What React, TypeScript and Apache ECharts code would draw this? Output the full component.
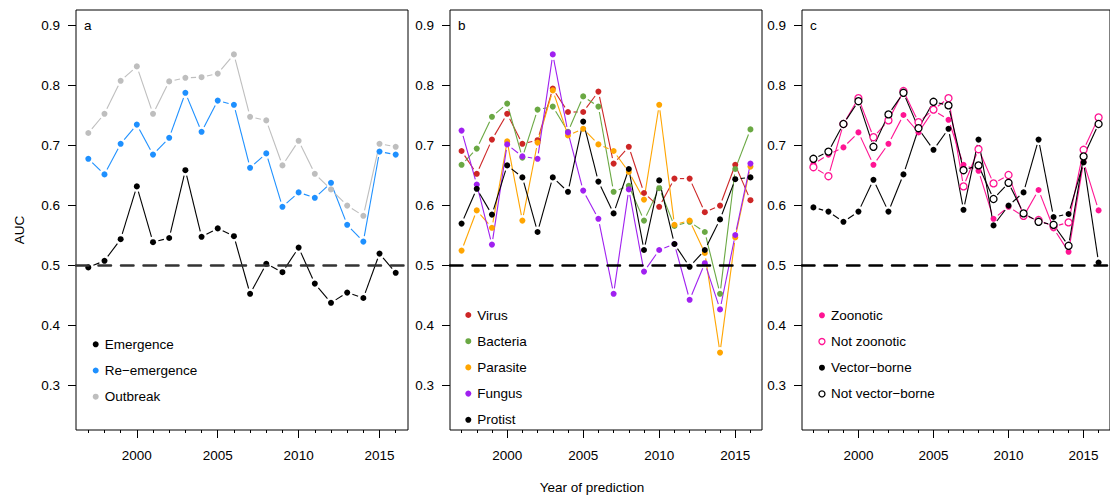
import React, { useEffect, useRef } from "react";
import * as echarts from "echarts";

// Prediction years (x values shared by every series)
const years = [1997, 1998, 1999, 2000, 2001, 2002, 2003, 2004, 2005, 2006, 2007, 2008, 2009, 2010, 2011, 2012, 2013, 2014, 2015, 2016];
const majorYears = [2000, 2005, 2010, 2015];
const aucTicks = [0.3, 0.4, 0.5, 0.6, 0.7, 0.8, 0.9];

// Panel a: event type
const emergence = [0.496, 0.507, 0.543, 0.631, 0.538, 0.545, 0.658, 0.547, 0.561, 0.548, 0.452, 0.502, 0.488, 0.529, 0.469, 0.437, 0.454, 0.445, 0.519, 0.487];
const reEmergence = [0.677, 0.651, 0.702, 0.734, 0.684, 0.712, 0.787, 0.722, 0.774, 0.767, 0.662, 0.686, 0.597, 0.621, 0.612, 0.637, 0.567, 0.539, 0.689, 0.684];
const outbreak = [0.720, 0.752, 0.807, 0.831, 0.752, 0.806, 0.812, 0.813, 0.819, 0.851, 0.747, 0.741, 0.666, 0.707, 0.652, 0.626, 0.599, 0.582, 0.702, 0.697];

// Panel b: pathogen type
const virus = [0.690, 0.652, 0.709, 0.752, 0.702, 0.708, 0.794, 0.755, 0.755, 0.789, 0.669, 0.697, 0.620, 0.597, 0.644, 0.644, 0.588, 0.599, 0.667, 0.608];
const bacteria = [0.667, 0.694, 0.747, 0.769, 0.679, 0.759, 0.764, 0.722, 0.781, 0.764, 0.622, 0.632, 0.574, 0.628, 0.565, 0.572, 0.555, 0.452, 0.660, 0.726];
const parasite = [0.524, 0.591, 0.562, 0.706, 0.574, 0.704, 0.791, 0.716, 0.727, 0.701, 0.690, 0.655, 0.609, 0.767, 0.567, 0.574, 0.520, 0.354, 0.546, 0.664];
const fungus = [0.724, 0.634, 0.534, 0.701, 0.681, 0.677, 0.851, 0.721, 0.624, 0.577, 0.452, 0.626, 0.489, 0.525, 0.535, 0.442, 0.503, 0.426, 0.550, 0.669];
const protist = [0.569, 0.627, 0.584, 0.666, 0.646, 0.555, 0.646, 0.622, 0.739, 0.639, 0.586, 0.660, 0.525, 0.641, 0.535, 0.497, 0.525, 0.576, 0.643, 0.646];

// Panel c: transmission
const zoonotic = [0.668, 0.684, 0.696, 0.721, 0.667, 0.702, 0.750, 0.721, 0.758, 0.742, 0.667, 0.657, 0.577, 0.597, 0.581, 0.625, 0.561, 0.522, 0.672, 0.591];
const notZoonotic = [0.663, 0.648, 0.735, 0.778, 0.713, 0.741, 0.790, 0.738, 0.759, 0.778, 0.631, 0.693, 0.636, 0.650, 0.582, 0.575, 0.564, 0.571, 0.692, 0.746];
const vectorBorne = [0.596, 0.589, 0.572, 0.589, 0.642, 0.589, 0.651, 0.727, 0.692, 0.727, 0.592, 0.709, 0.566, 0.599, 0.621, 0.709, 0.580, 0.585, 0.671, 0.504];
const notVectorBorne = [0.677, 0.689, 0.735, 0.773, 0.697, 0.751, 0.787, 0.728, 0.772, 0.766, 0.658, 0.666, 0.610, 0.637, 0.586, 0.572, 0.567, 0.532, 0.681, 0.735];

const FONT = "'Liberation Sans', Arial, Helvetica, sans-serif";
const X_MIN = 1996.24;
const X_MAX = 2016.76;
const Y_MIN = 0.225;
const Y_MAX = 0.925;

type Line = { name: string; values: number[]; color: string; open?: boolean };
type Panel = {
  letter: string;
  left: number;
  width: number;
  refColor: string;
  legendTop: number;
  legendLeft: number;
  lines: Line[];
};

const panels: Panel[] = [
  {
    letter: "a", left: 76, width: 332, refColor: "#333", legendTop: 336.3, legendLeft: 92.7,
    lines: [
      { name: "Emergence", values: emergence, color: "#000000" },
      { name: "Re\u2212emergence", values: reEmergence, color: "#1E90FF" },
      { name: "Outbreak", values: outbreak, color: "#BEBEBE" },
    ],
  },
  {
    letter: "b", left: 450, width: 312, refColor: "#000", legendTop: 307, legendLeft: 465.3,
    lines: [
      { name: "Virus", values: virus, color: "#CD2626" },
      { name: "Bacteria", values: bacteria, color: "#6AA843" },
      { name: "Parasite", values: parasite, color: "#FFA500" },
      { name: "Fungus", values: fungus, color: "#A020F0" },
      { name: "Protist", values: protist, color: "#000000" },
    ],
  },
  {
    letter: "c", left: 802, width: 312, refColor: "#000", legendTop: 307.3, legendLeft: 818.3,
    lines: [
      { name: "Zoonotic", values: zoonotic, color: "#FF1493" },
      { name: "Not zoonotic", values: notZoonotic, color: "#FF1493", open: true },
      { name: "Vector\u2212borne", values: vectorBorne, color: "#000000" },
      { name: "Not vector\u2212borne", values: notVectorBorne, color: "#000000", open: true },
    ],
  },
];

// Segments between consecutive years, drawn with a small gap around each point
function segmentData(values: number[]) {
  return years.slice(0, -1).map((yr, i) => [yr, values[i], years[i + 1], values[i + 1]]);
}

function gappedSegment(color: string) {
  const gap = 5.5;
  return (_params: any, api: any) => {
    const p0 = api.coord([api.value(0), api.value(1)]);
    const p1 = api.coord([api.value(2), api.value(3)]);
    const dx = p1[0] - p0[0];
    const dy = p1[1] - p0[1];
    const len = Math.hypot(dx, dy);
    if (len <= 2 * gap) return { type: "group", children: [] };
    const ux = dx / len;
    const uy = dy / len;
    return {
      type: "line",
      shape: { x1: p0[0] + ux * gap, y1: p0[1] + uy * gap, x2: p1[0] - ux * gap, y2: p1[1] - uy * gap },
      style: { stroke: color, lineWidth: 1.1, fill: null },
    };
  };
}

function buildOption() {
  const grid: any[] = [];
  const xAxis: any[] = [];
  const yAxis: any[] = [];
  const legend: any[] = [];
  const series: any[] = [];
  const graphic: any[] = [];

  panels.forEach((p, i) => {
    grid.push({ left: p.left, top: 10, width: p.width, height: 420, show: true, borderColor: "#000", borderWidth: 1, backgroundColor: "transparent" });

    // yearly minor ticks
    xAxis.push({
      type: "value", gridIndex: i, min: X_MIN, max: X_MAX, position: "bottom",
      axisLine: { show: false }, splitLine: { show: false },
      axisTick: { show: true, customValues: years, length: 3, lineStyle: { color: "#000", width: 1 } },
      axisLabel: { show: false },
    });
    // labelled ticks every five years
    xAxis.push({
      type: "value", gridIndex: i, min: X_MIN, max: X_MAX, position: "bottom",
      axisLine: { show: false }, splitLine: { show: false },
      axisTick: { show: true, customValues: majorYears, length: 8, lineStyle: { color: "#000", width: 1 } },
      axisLabel: { show: true, customValues: majorYears, margin: 18, color: "#000", fontSize: 13.5, fontFamily: FONT, formatter: (v: number) => String(v) },
    });
    yAxis.push({
      type: "value", gridIndex: i, min: Y_MIN, max: Y_MAX,
      axisLine: { show: false }, splitLine: { show: false },
      axisTick: { show: true, customValues: aucTicks, length: 8, lineStyle: { color: "#000", width: 1 } },
      axisLabel: { show: true, customValues: aucTicks, margin: 16, color: "#000", fontSize: 13.5, fontFamily: FONT, formatter: (v: number) => v.toFixed(1) },
    });

    legend.push({
      orient: "vertical", left: p.legendLeft, top: p.legendTop, padding: 0,
      itemWidth: 8, itemHeight: 6, itemGap: 10.2, selectedMode: false,
      textStyle: { color: "#000", fontSize: 13.5, lineHeight: 16, fontFamily: FONT },
      data: p.lines.map((l) => ({
        name: l.name,
        icon: "circle",
        itemStyle: l.open
          ? { color: "#fff", borderColor: l.color, borderWidth: 1.3 }
          : { color: l.color, borderWidth: 0 },
      })),
    });

    p.lines.forEach((l, k) => {
      series.push({
        type: "custom",
        xAxisIndex: 2 * i,
        yAxisIndex: i,
        renderItem: gappedSegment(l.color),
        encode: { x: [0, 2], y: [1, 3] },
        data: segmentData(l.values),
        silent: true,
      });
      const s: any = {
        type: "scatter",
        name: l.name,
        xAxisIndex: 2 * i,
        yAxisIndex: i,
        symbol: "circle",
        symbolSize: l.open ? 7 : 6,
        itemStyle: l.open
          ? { color: "#fff", borderColor: l.color, borderWidth: 1.3, opacity: 1 }
          : { color: l.color, borderWidth: 0, opacity: 1 },
        data: years.map((yr, j) => [yr, l.values[j]]),
        silent: true,
      };
      if (k === 0) {
        s.markLine = {
          silent: true,
          symbol: ["none", "none"],
          label: { show: false },
          lineStyle: { color: p.refColor, width: 2.5, type: [12.5, 10], cap: "round" },
          data: [{ yAxis: 0.5 }],
        };
      }
      series.push(s);
    });

    graphic.push({
      type: "text", left: p.left + 8, top: 18,
      style: { text: p.letter, fill: "#000", font: `13.5px ${FONT}` },
    });
  });

  graphic.push({
    type: "text", x: 19, y: 230, rotation: Math.PI / 2,
    style: { text: "AUC", fill: "#000", font: `13.5px ${FONT}`, align: "center", verticalAlign: "middle" },
  });
  graphic.push({
    type: "text", x: 592, y: 487,
    style: { text: "Year of prediction", fill: "#000", font: `13.5px ${FONT}`, align: "center", verticalAlign: "middle" },
  });

  return {
    animation: false,
    backgroundColor: "#fff",
    textStyle: { fontFamily: FONT },
    grid, xAxis, yAxis, legend, series, graphic,
  };
}

export default function App() {
  const ref = useRef<HTMLDivElement | null>(null);
  useEffect(() => {
    if (!ref.current) return;
    const chart = echarts.init(ref.current, undefined, { renderer: "svg" });
    chart.setOption(buildOption() as any);
    return () => chart.dispose();
  }, []);
  return (
    <div
      ref={ref}
      style={{ position: "fixed", left: 0, top: 0, width: 1110, height: 498, background: "#fff" }}
    />
  );
}
